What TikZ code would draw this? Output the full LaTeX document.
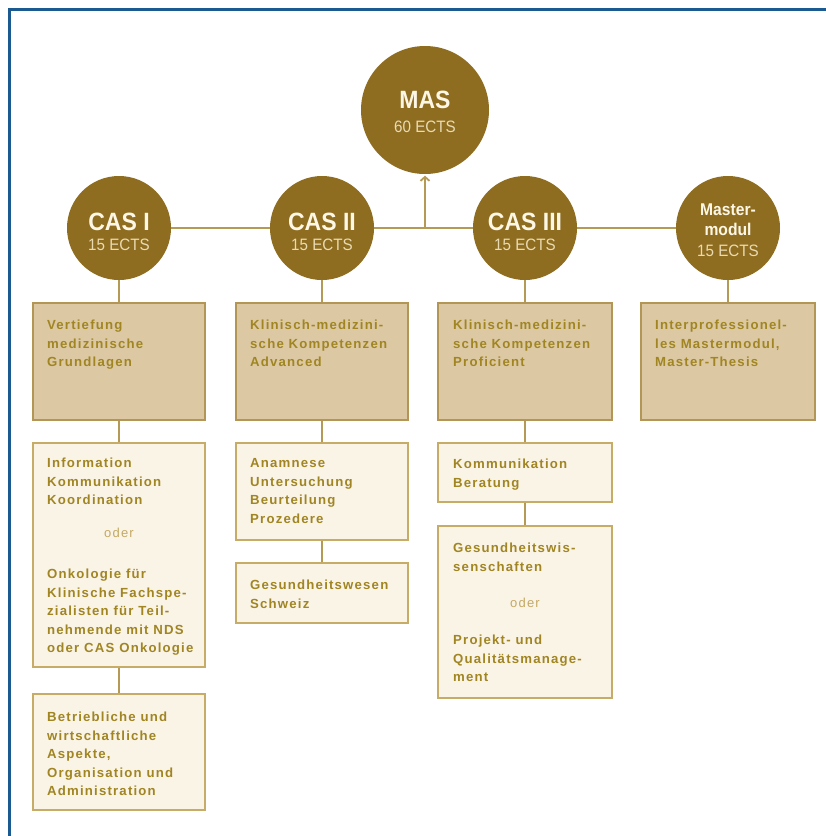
\documentclass[tikz,border=0pt]{standalone}
\usepackage{fontspec}
\setmainfont{Liberation Sans}
\newfontfamily\boxfont{Liberation Sans}[LetterSpace=9]
\newfontfamily\condfont{Liberation Sans}[FakeStretch=0.92]
\usetikzlibrary{arrows.meta,backgrounds}
\definecolor{gold}{HTML}{8E6D20}
\definecolor{linecol}{HTML}{B49A55}
\definecolor{boxAfill}{HTML}{DCC9A3}
\definecolor{boxAline}{HTML}{B39655}
\definecolor{boxBfill}{HTML}{FAF4E7}
\definecolor{boxBline}{HTML}{C6AC66}
\definecolor{txtcol}{HTML}{A08522}
\definecolor{odercol}{HTML}{C4A864}
\definecolor{cream}{HTML}{FFF7E6}
\definecolor{ectscol}{HTML}{EADAB2}
\definecolor{frame}{HTML}{1A5A90}
\begin{document}
\begin{tikzpicture}[x=1pt,y=-1pt,
  circ/.style={circle, fill=gold, draw=none, inner sep=0pt},
  conn/.style={draw=linecol, line width=1.8pt},
  boxA/.style={rectangle, draw=boxAline, fill=boxAfill, line width=1.5pt, inner sep=0pt},
  boxB/.style={rectangle, draw=boxBline, fill=boxBfill, line width=1.5pt, inner sep=0pt},
  txt/.style={anchor=north west, inner sep=0pt, align=left, text=txtcol,
    font=\boxfont\bfseries\fontsize{13.2}{18.5}\selectfont},
  odertxt/.style={anchor=base, inner sep=0pt, text=odercol,
    font=\boxfont\fontsize{13}{18.5}\selectfont},
  bigtxt/.style={anchor=base, inner sep=0pt, text=cream,
    font=\condfont\bfseries\fontsize{25}{25}\selectfont},
  mtxt/.style={anchor=base, inner sep=0pt, text=cream,
    font=\condfont\bfseries\fontsize{17}{17}\selectfont},
  ectstxt/.style={anchor=base, inner sep=0pt, text=ectscol,
    font=\condfont\fontsize{16.5}{16.5}\selectfont}
]
\useasboundingbox (0,0) rectangle (826,836);

% circles
\node[circ, minimum size=128pt] (mas) at (425,110) {};
\node[circ, minimum size=104pt] (c1) at (119,228) {};
\node[circ, minimum size=104pt] (c2) at (322,228) {};
\node[circ, minimum size=104pt] (c3) at (525,228) {};
\node[circ, minimum size=104pt] (c4) at (728,228) {};

\node[bigtxt] (mast) at (425,108.5) {MAS};
\node[ectstxt] (mase) at (425,132) {60 ECTS};
\node[bigtxt] (c1t) at (119,230) {CAS I};
\node[ectstxt] (c1e) at (119,250.5) {15 ECTS};
\node[bigtxt] (c2t) at (322,230) {CAS II};
\node[ectstxt] (c2e) at (322,250.5) {15 ECTS};
\node[bigtxt] (c3t) at (525,230) {CAS III};
\node[ectstxt] (c3e) at (525,250.5) {15 ECTS};
\node[mtxt] (c4t) at (728,215) {Master-};
\node[mtxt] (c4m) at (728,235) {modul};
\node[ectstxt] (c4e) at (728,256) {15 ECTS};

% row 1 boxes
\node[boxA, minimum width=172pt, minimum height=117pt] (b1) at (119,361.5) {};
\node[boxA, minimum width=172pt, minimum height=117pt] (b2) at (322,361.5) {};
\node[boxA, minimum width=174pt, minimum height=117pt] (b3) at (525,361.5) {};
\node[boxA, minimum width=174pt, minimum height=117pt] (b4) at (728,361.5) {};
% lower boxes
\node[boxB, minimum width=172pt, minimum height=224pt] (b1b) at (119,555) {};
\node[boxB, minimum width=172pt, minimum height=116pt] (b1c) at (119,752) {};
\node[boxB, minimum width=172pt, minimum height=97pt] (b2b) at (322,491.5) {};
\node[boxB, minimum width=172pt, minimum height=60pt] (b2c) at (322,593) {};
\node[boxB, minimum width=174pt, minimum height=59pt] (b3b) at (525,472.5) {};
\node[boxB, minimum width=174pt, minimum height=172pt] (b3c) at (525,612) {};

% box texts (top = first baseline - 11)
\node[txt] (b1t) at (47,318.5) {\rule{0pt}{11pt}Vertiefung\\medizinische\\Grundlagen};
\node[txt] (b2t) at (250,318.5) {\rule{0pt}{11pt}Klinisch-medizini-\\sche Kompetenzen\\Advanced};
\node[txt] (b3t) at (453,318.5) {\rule{0pt}{11pt}Klinisch-medizini-\\sche Kompetenzen\\Proficient};
\node[txt] (b4t) at (655,318.5) {\rule{0pt}{11pt}Interprofessionel-\\les Mastermodul,\\Master-Thesis};

\node[txt] (b1bt) at (47,456.5) {\rule{0pt}{11pt}Information\\Kommunikation\\Koordination};
\node[odertxt] (b1bo) at (119,537.5) {oder};
\node[txt] (b1bu) at (47,567.5) {\rule{0pt}{11pt}Onkologie für\\Klinische Fachspe-\\zialisten für Teil-\\nehmende mit NDS\\oder CAS Onkologie};
\node[txt] (b1ct) at (47,710.5) {\rule{0pt}{11pt}Betriebliche und\\wirtschaftliche\\Aspekte,\\Organisation und\\Administration};

\node[txt] (b2bt) at (250,456.5) {\rule{0pt}{11pt}Anamnese\\Untersuchung\\Beurteilung\\Prozedere};
\node[txt] (b2ct) at (250,578.5) {\rule{0pt}{11pt}Gesundheitswesen\\Schweiz};

\node[txt] (b3bt) at (453,457.5) {\rule{0pt}{11pt}Kommunikation\\Beratung};
\node[txt] (b3ct) at (453,541.5) {\rule{0pt}{11pt}Gesundheitswis-\\senschaften};
\node[odertxt] (b3co) at (525,607.5) {oder};
\node[txt] (b3cu) at (453,633.5) {\rule{0pt}{11pt}Projekt- und\\Qualitätsmanage-\\ment};

\coordinate (j) at (425,228);

\begin{scope}[on background layer]
  \fill[white] (0,0) rectangle (826,836);
  \draw[conn] (c1.center) -- (c4.center);
  \draw[conn] (c1.center) -- (b1.north);
  \draw[conn] (c2.center) -- (b2.north);
  \draw[conn] (c3.center) -- (b3.north);
  \draw[conn] (c4.center) -- (b4.north);
\end{scope}
\draw[conn, -{Straight Barb[length=4pt,width=9pt]}, shorten >=1.5pt] (j) -- (mas.south);
\draw[conn] (b1.south) -- (b1b.north);
\draw[conn] (b1b.south) -- (b1c.north);
\draw[conn] (b2.south) -- (b2b.north);
\draw[conn] (b2b.south) -- (b2c.north);
\draw[conn] (b3.south) -- (b3b.north);
\draw[conn] (b3b.south) -- (b3c.north);

% frame (top and left edges only)
\draw[frame, line width=3pt] (9.5,836) -- (9.5,9.5) -- (826,9.5);
\end{tikzpicture}
\end{document}
